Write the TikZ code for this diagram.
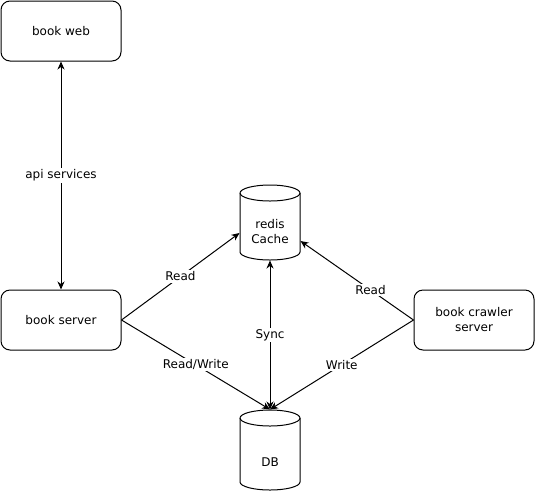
\documentclass[tikz,border=0pt]{standalone}
\usepackage{fontspec}
\setmainfont{DejaVu Sans}
\usetikzlibrary{arrows.meta}
\tikzset{
  box/.style={draw, rounded corners=9pt, minimum width=120pt, minimum height=60pt, align=center, inner sep=0pt},
  drum/.style={minimum width=60pt, inner sep=0pt},
  lbl/.style={fill=white, inner sep=1.5pt}
}
\begin{document}
\begin{tikzpicture}[x=1pt, y=-1pt, font=\fontsize{12}{15}\selectfont, line width=1pt, line join=round, >={Stealth[length=8pt,width=7pt,inset=2.5pt]}]
	\useasboundingbox (0,0) rectangle (535,491);
	% boxes
	\node[box] (web) at (61,31) {book web};
	\node[box] (server) at (61,320) {book server};
	\node[box] (crawler) at (474,320) {book crawler\\server};
	% cylinders
	\node[drum, minimum height=75pt, label={[align=center, yshift=-9.5pt]center:redis\\Cache}] (redis) at (270,222.5) {};
	\draw (240,193) -- (240,252) arc[start angle=180, end angle=0, x radius=30, y radius=8] -- (300,193);
	\draw (270,193) ellipse[x radius=30, y radius=8];
	\node[drum, minimum height=80pt, label={[yshift=-12pt]center:DB}] (db) at (270,450) {};
	\draw (240,418) -- (240,482) arc[start angle=180, end angle=0, x radius=30, y radius=8] -- (300,418);
	\draw (270,418) ellipse[x radius=30, y radius=8];
	% links
	\draw[<->] (web) -- (server) node[lbl, midway]{api services};
	\draw[->] (server.east) -- ([yshift=-10.5pt]redis.west) node[lbl, midway]{Read};
	\draw[->] (server.east) -- (db.north) node[lbl, midway]{Read/Write};
	\draw[->] (crawler.west) -- ([yshift=-18.5pt]redis.east) node[lbl, pos=0.38]{Read};
	\draw[->] (crawler.west) -- (db.north) node[lbl, midway]{Write};
	\draw[<->] (db.north) -- (redis.south) node[lbl, midway]{Sync};
\end{tikzpicture}
\end{document}
